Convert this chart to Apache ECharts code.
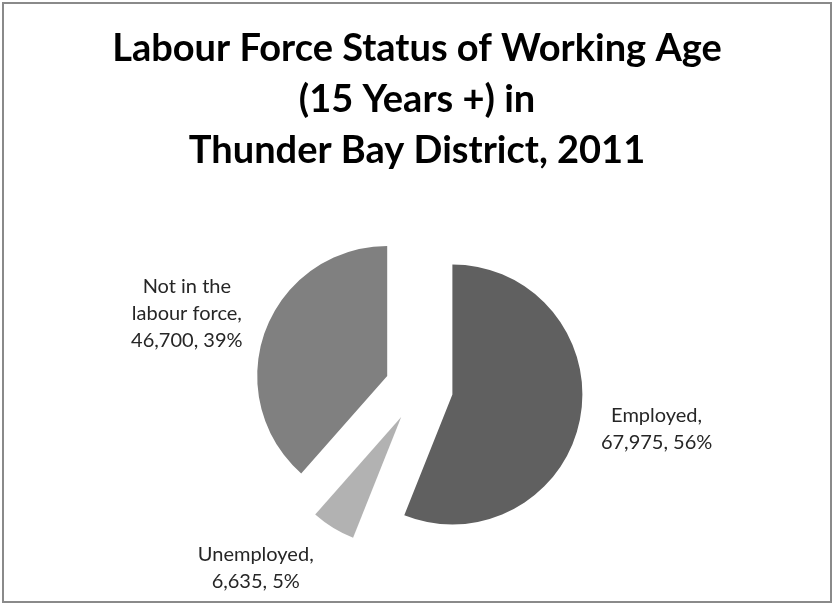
<!DOCTYPE html>
<html>
<head>
<meta charset="utf-8">
<script src="https://cdn.jsdelivr.net/npm/echarts@6/dist/echarts.min.js"></script>
<style>
html,body{margin:0;padding:0;background:#fff;}
#chart{width:834px;height:605px;}
</style>
</head>
<body>
<div id="chart"></div>
<script>
// Data
var categories = ['Employed', 'Unemployed', 'Not in the\nlabour force'];
var values = [67975, 6635, 46700];
var percents = ['56%', '5%', '39%'];
var colors = ['#606060', '#b2b2b2', '#808080'];
var titleLines = ['Labour Force Status of Working Age', '(15 Years +) in', 'Thunder Bay District, 2011'];

function fmt(n) { return n.toString().replace(/\B(?=(\d{3})+(?!\d))/g, ','); }

var center = [419, 388];
var R = 130;
var offset = 34;
var labelShift = [[-3, -5], [-35, -29], [-3, 12]];

var pieData = categories.map(function (c, i) {
  return { name: c, value: values[i], selected: true,
    itemStyle: { color: colors[i] }, select: { itemStyle: { color: colors[i] } } };
});
var labelData = categories.map(function (c, i) {
  return { name: c, value: values[i], selected: true };
});

var chart = echarts.init(document.getElementById('chart'));
chart.setOption({
  animation: false,
  backgroundColor: '#fff',
  title: {
    text: titleLines.join('\n'),
    left: 'center',
    top: 18,
    textStyle: { fontFamily: 'Lato', fontWeight: 'bold', fontSize: 38, lineHeight: 51, color: '#000' }
  },
  graphic: [{
    type: 'rect', shape: { x: 3, y: 3, width: 828, height: 599 },
    style: { fill: 'none', stroke: '#8a8a8a', lineWidth: 2 }, silent: true
  }],
  series: [{
    type: 'pie',
    center: center,
    radius: [0, R],
    startAngle: 90,
    clockwise: true,
    selectedMode: 'multiple',
    selectedOffset: offset,
    silent: true,
    emphasis: { disabled: true },
    label: { show: false },
    labelLine: { show: false },
    itemStyle: { borderWidth: 0 },
    data: pieData
  }, {
    type: 'pie',
    center: center,
    radius: [R + 70, R + 86],
    startAngle: 90,
    clockwise: true,
    selectedMode: 'multiple',
    selectedOffset: offset,
    silent: true,
    emphasis: { disabled: true },
    itemStyle: { color: 'rgba(0,0,0,0)' },
    select: { itemStyle: { color: 'rgba(0,0,0,0)' } },
    labelLine: { show: false },
    label: {
      show: true,
      position: 'inside',
      fontFamily: 'Lato',
      fontSize: 20,
      lineHeight: 27,
      color: '#262626',
      align: 'center',
      formatter: function (p) {
        return p.name + ',\n' + fmt(values[p.dataIndex]) + ', ' + percents[p.dataIndex];
      }
    },
    labelLayout: function (p) {
      var s = labelShift[p.dataIndex];
      return { dx: s[0], dy: s[1] };
    },
    data: labelData
  }]
});
</script>
</body>
</html>
